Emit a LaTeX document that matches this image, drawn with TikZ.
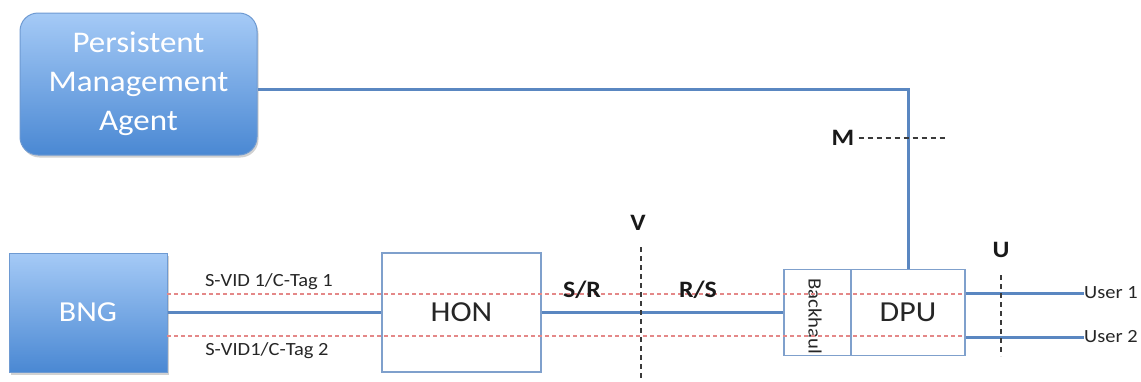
\documentclass[tikz,border=0pt]{standalone}
\usepackage{fontspec}
\setmainfont{Carlito}[FakeStretch=1.1]
\usetikzlibrary{shadows}
\definecolor{topblue}{HTML}{A5CAF6}
\definecolor{botblue}{HTML}{4A88D3}
\definecolor{edgeblue}{HTML}{6E9AD2}
\definecolor{boxedge}{HTML}{7FA0CC}
\definecolor{linkblue}{HTML}{5A87C1}
\definecolor{tagred}{HTML}{E48888}
\definecolor{refdash}{HTML}{3A3A3A}
\tikzset{
  gradbox/.style={draw=edgeblue, line width=1pt, top color=topblue, bottom color=botblue,
    text=white, align=center, inner sep=0pt,
    drop shadow={shadow xshift=1.5pt, shadow yshift=-2.5pt, opacity=0.3, fill=black!60}},
  plainbox/.style={draw=boxedge, line width=1.6pt, fill=white, inner sep=0pt, text=black!85},
  link/.style={draw=linkblue, line width=3pt},
  tagline/.style={draw=tagred, line width=1.4pt, dash pattern=on 4pt off 3pt},
  refline/.style={draw=refdash, line width=2.2pt, dash pattern=on 5pt off 4pt},
  reflabel/.style={font=\bfseries\fontsize{23.5}{27}\selectfont, text=black!90, inner sep=0pt},
  taglabel/.style={font=\fontsize{18.6}{22}\selectfont, text=black!85, inner sep=0pt},
  biglabel/.style={font=\fontsize{29}{33}\selectfont},
}
\begin{document}
\begin{tikzpicture}[x=1pt, y=-1pt]
\useasboundingbox (0,0) rectangle (1141,381);

% main nodes
\node[gradbox, rounded corners=18pt, minimum width=237pt, minimum height=142pt,
      font=\fontsize{30}{39}\selectfont] (pma) at (138.5,84) {Persistent\\Management\\Agent};
\node[gradbox, minimum width=158pt, minimum height=119pt, biglabel] (bng) at (88,312.5) {BNG};
\node[plainbox, minimum width=159pt, minimum height=119pt, biglabel] (hon) at (461.5,312.5) {HON};
\node[plainbox, minimum width=67pt, minimum height=86pt] (bh) at (817.5,312.5) {};
\node[plainbox, minimum width=114pt, minimum height=86pt, biglabel] (dpu) at (908,312.5) {DPU};
\node[rotate=-90, font=\fontsize{18.8}{22}\selectfont, text=black!85, inner sep=0pt] (bhtext) at (815,316) {Backhaul};

% tag lines (drawn over boxes)
\coordinate (t1s) at (167,294);
\coordinate (t1e) at (965,294);
\coordinate (t2s) at (167,336);
\coordinate (t2e) at (965,336);
\draw[tagline] (t1s) -- (t1e);
\draw[tagline] (t2s) -- (t2e);

% links
\draw[link] (bng.east) -- (hon.west);
\draw[link] (hon.east) -- (bh.west);
\draw[link] (pma.east |- 0,89) -| (dpu.north);

% users
\node[taglabel, anchor=west] (u1) at (1084,293) {User 1};
\node[taglabel, anchor=west] (u2) at (1084,337) {User 2};
\draw[link] (dpu.east |- u1) -- (u1.west);
\draw[link] (dpu.east |- u2) -- (u2.west);

% tag labels
\node[taglabel] (tag1) at (269,282) {S-VID 1/C-Tag 1};
\node[taglabel] (tag2) at (267,351) {S-VID1/C-Tag 2};

% reference points
\node[reflabel] (vlab) at (638,223) {V};
\coordinate (vtop) at (641,247);
\coordinate (vbot) at (641,381);
\draw[refline] (vtop) -- (vbot);

\node[reflabel] (ulab) at (1001,250) {U};
\coordinate (utop) at (1001,275);
\coordinate (ubot) at (1001,356);
\draw[refline] (utop) -- (ubot);

\node[reflabel] (mlab) at (843,138) {M};
\coordinate (mend) at (946,138);
\draw[refline, line width=1.8pt] (mlab.east) ++(4,0) -- (mend);

\node[reflabel] (sr) at (582,290) {S/R};
\node[reflabel] (rs) at (698,290) {R/S};
\end{tikzpicture}
\end{document}
